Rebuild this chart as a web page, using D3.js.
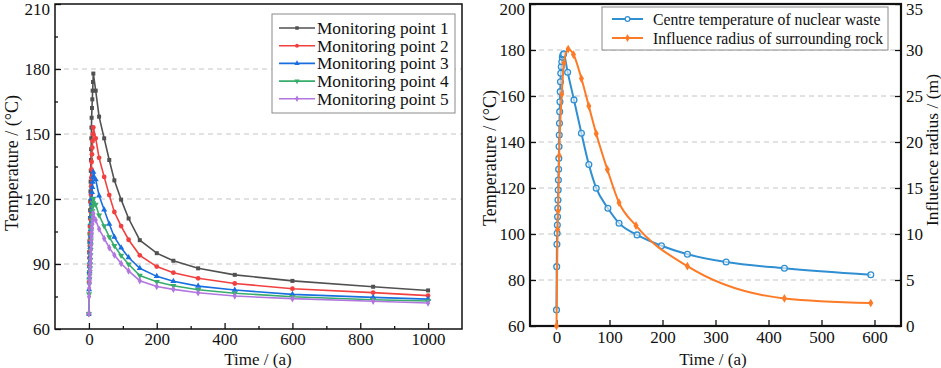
<!DOCTYPE html>
<html>
<head>
<meta charset="utf-8">
<script src="https://cdn.jsdelivr.net/npm/d3@7"></script>
<style>
body { margin: 0; background: #fff; }
text { font-family: "Liberation Serif", "Times New Roman", serif; fill: #111; }
</style>
</head>
<body>
<svg></svg>
<script>
// left panel: five monitoring points
const timeLeft = [0, 0.5, 1, 1.5, 2, 2.5, 3, 3.5, 4, 4.5, 5, 5.5, 6, 6.5, 7, 7.5, 8, 9, 10, 11, 12, 13,
  20, 30, 45, 60, 75, 95, 117, 150, 200, 249, 322, 430, 600, 838, 1000];
const point1 = [67, 86, 95.5, 100.3, 104, 107.5, 111.2, 114.8, 119, 123.5, 128, 133, 138, 143, 148, 153, 157.5, 162, 166, 170, 174, 177.9,
  170, 158, 148, 138, 128.6, 119.7, 111, 101, 95, 91.5, 88, 85, 82.2, 79.5, 77.8];
const point2 = [67, 81.7, 89.1, 92.8, 95.6, 98.4, 101.2, 104.1, 107.3, 110.8, 114.3, 118.2, 122, 125.9, 129.8, 133.7, 137.1, 140.6, 143.7, 146.8, 149.9, 153,
  148, 139, 130.2, 121.8, 114, 107.5, 101.2, 94, 88.8, 86, 83.4, 81, 78.6, 76.8, 75.4];
const point3 = [67, 78.2, 83.8, 86.7, 88.8, 90.9, 93.1, 95.2, 97.7, 100.3, 103, 106, 108.9, 111.9, 114.8, 117.8, 120.4, 123.1, 125.4, 127.8, 130.1, 132.5,
  129, 121.5, 115, 108.5, 102.5, 97.5, 93, 88, 84.3, 82, 79.8, 78, 76, 74.6, 73.8];
const point4 = [67, 76.1, 80.7, 83, 84.7, 86.4, 88.2, 89.9, 91.9, 94.1, 96.3, 98.7, 101, 103.4, 105.8, 108.2, 110.4, 112.5, 114.5, 116.4, 118.3, 120.2,
  117.5, 112.5, 107.5, 102.5, 98.4, 93.9, 89.9, 84.7, 81.8, 80, 78.1, 76.5, 74.9, 73.5, 72.9];
const point5 = [67, 74.9, 78.9, 80.9, 82.4, 83.9, 85.4, 87, 88.7, 90.6, 92.5, 94.5, 96.6, 98.7, 100.8, 102.9, 104.7, 106.6, 108.3, 110, 111.6, 113.3,
  110.3, 106.1, 101.8, 97.5, 94.1, 90.2, 86.8, 82.3, 79.6, 78.3, 76.7, 75.2, 74, 72.8, 72];
const pointNames = ['Monitoring point 1', 'Monitoring point 2', 'Monitoring point 3', 'Monitoring point 4', 'Monitoring point 5'];
const leftYTicks = [60, 90, 120, 150, 180, 210];
const leftXTicks = [0, 200, 400, 600, 800, 1000];

// right panel
const timeCentre = [0, 0.4, 0.8, 1.2, 1.6, 2, 2.4, 2.8, 3.2, 3.6, 4, 4.4, 4.8, 5.2, 5.6, 6, 6.5, 7, 7.5, 8, 9, 10, 11, 12, 13.5,
  21, 33, 47, 61, 75, 97, 118, 152, 198, 247, 320, 430, 593];
const centreTemp = [67, 85.8, 95.5, 100.3, 103.9, 107.5, 111.2, 114.8, 119.1, 123.5, 128.1, 132.9, 138, 143, 148.1, 153.2, 157.5, 161.9, 166.2, 169.9, 172.7, 174.9, 176.8, 177.8, 178.3,
  170.3, 158.3, 143.8, 130.2, 119.9, 111.2, 104.7, 99.6, 94.9, 91.2, 87.8, 85.1, 82.3];
const timeRadius = [0, 2, 3, 5, 10, 14, 22, 32, 47, 61, 75, 96, 118, 150, 247, 430, 593];
const radius = [0, 10.5, 12.5, 18.5, 25.2, 28.6, 30.1, 29.5, 26.9, 23.9, 20.9, 17, 13.4, 10.9, 6.5, 3, 2.5];
const rightNames = ['Centre temperature of nuclear waste', 'Influence radius of surrounding rock'];
const rightYTicks = [60, 80, 100, 120, 140, 160, 180, 200];
const rightY2Ticks = [0, 5, 10, 15, 20, 25, 30, 35];
const rightXTicks = [0, 100, 200, 300, 400, 500, 600];

const svg = d3.select('svg').attr('width', 941).attr('height', 368);

const leftColors = ['#515151', '#F14040', '#1A6FDF', '#37AD6B', '#B177DE'];
const leftSymbols = [d3.symbolSquare, d3.symbolCircle, d3.symbolTriangle, d3.symbolTriangle, d3.symbolDiamond];
const rightColors = ['#2f8fd1', '#fd7a26'];
const fmt = d3.format('d');

// ---------- left chart ----------
const xL = d3.scaleLinear().domain([-100, 1100]).range([55, 462]);
const yL = d3.scaleLinear().domain([60, 210]).range([329, 4]);

const gL = svg.append('g');

// grid
gL.selectAll('.grid').data(leftYTicks.filter(d => d > 60 && d < 210)).enter().append('line')
  .attr('x1', 55).attr('x2', 462)
  .attr('y1', d => yL(d)).attr('y2', d => yL(d))
  .attr('stroke', '#c4c4c4').attr('stroke-dasharray', '5,4').attr('stroke-width', 1);

const styleAxis = (g) => {
  g.select('.domain').remove();
  g.selectAll('line').attr('stroke', '#111').attr('stroke-width', 1.3);
  g.selectAll('text').style('font-size', '17px').style('font-family', '"Liberation Serif", serif').attr('fill', '#111');
};
// top-most labels sit a little lower so they stay inside the picture
const lowerTop = top => g => g.selectAll('.tick text').filter(d => d === top).attr('dy', '0.62em');

gL.append('g').attr('transform', 'translate(0,329)')
  .call(d3.axisBottom(xL).tickValues(leftXTicks).tickFormat(fmt).tickSize(-6).tickPadding(4))
  .call(styleAxis);
gL.append('g').attr('transform', 'translate(0,329)')
  .call(d3.axisBottom(xL).tickValues([100, 300, 500, 700, 900]).tickSize(-3).tickFormat(''))
  .call(styleAxis);
gL.append('g').attr('transform', 'translate(55,0)')
  .call(d3.axisLeft(yL).tickValues(leftYTicks).tickSize(-6).tickPadding(5))
  .call(styleAxis).call(lowerTop(210));
gL.append('g').attr('transform', 'translate(55,0)')
  .call(d3.axisLeft(yL).tickValues([75, 105, 135, 165, 195]).tickSize(-3).tickFormat(''))
  .call(styleAxis);

gL.append('rect').attr('x', 55).attr('y', 4).attr('width', 407).attr('height', 325)
  .attr('fill', 'none').attr('stroke', '#111').attr('stroke-width', 1.5);

const leftSeries = [point1, point2, point3, point4, point5];
const lineL = d3.line().x(d => xL(d[0])).y(d => yL(d[1]));

leftSeries.forEach((vals, i) => {
  const pts = timeLeft.map((t, j) => [t, vals[j]]);
  gL.append('path').datum(pts)
    .attr('d', lineL).attr('fill', 'none')
    .attr('stroke', leftColors[i]).attr('stroke-width', 1.6);
  gL.selectAll('.m' + i).data(pts).enter().append('path')
    .attr('d', d3.symbol().type(leftSymbols[i]).size(i === 1 ? 18 : 16))
    .attr('transform', d => `translate(${xL(d[0])},${yL(d[1])})${i === 3 ? ' rotate(180)' : ''}`)
    .attr('fill', leftColors[i]);
});

// left legend
const legL = gL.append('g');
legL.append('rect').attr('x', 272).attr('y', 14).attr('width', 183).attr('height', 99)
  .attr('fill', '#fff').attr('stroke', '#8a8a8a').attr('stroke-width', 1);
pointNames.forEach((name, i) => {
  const y = 28 + i * 17.7;
  legL.append('line').attr('x1', 279).attr('x2', 315).attr('y1', y).attr('y2', y)
    .attr('stroke', leftColors[i]).attr('stroke-width', 1.6);
  legL.append('path').attr('d', d3.symbol().type(leftSymbols[i]).size(12))
    .attr('transform', `translate(297,${y})${i === 3 ? ' rotate(180)' : ''}`)
    .attr('fill', leftColors[i]);
  legL.append('text').attr('x', 317).attr('y', y + 6).style('font-size', '17.3px').text(name);
});

gL.append('text').attr('transform', 'translate(18,163) rotate(-90)')
  .attr('text-anchor', 'middle').style('font-size', '18px').text('Temperature / (°C)');
gL.append('text').attr('x', 258).attr('y', 365)
  .attr('text-anchor', 'middle').style('font-size', '17px').text('Time / (a)');

// ---------- right chart ----------
const xR = d3.scaleLinear().domain([-50, 650]).range([530, 901]);
const yR = d3.scaleLinear().domain([60, 200]).range([326, 4]);
const yR2 = d3.scaleLinear().domain([0, 35]).range([326, 4]);

const gR = svg.append('g');

gR.selectAll('.grid').data(rightYTicks.filter(d => d > 60 && d < 200)).enter().append('line')
  .attr('x1', 530).attr('x2', 901)
  .attr('y1', d => yR(d)).attr('y2', d => yR(d))
  .attr('stroke', '#c4c4c4').attr('stroke-dasharray', '5,4').attr('stroke-width', 1);

gR.append('g').attr('transform', 'translate(0,326)')
  .call(d3.axisBottom(xR).tickValues(rightXTicks).tickFormat(fmt).tickSize(-6).tickPadding(5))
  .call(styleAxis);
gR.append('g').attr('transform', 'translate(530,0)')
  .call(d3.axisLeft(yR).tickValues(rightYTicks).tickSize(-6).tickPadding(5))
  .call(styleAxis).call(lowerTop(200));
gR.append('g').attr('transform', 'translate(901,0)')
  .call(d3.axisRight(yR2).tickValues(rightY2Ticks).tickSize(-6).tickPadding(5))
  .call(styleAxis).call(lowerTop(35));

gR.append('rect').attr('x', 530).attr('y', 4).attr('width', 371).attr('height', 322)
  .attr('fill', 'none').attr('stroke', '#111').attr('stroke-width', 2.2);

const centrePts = timeCentre.map((t, j) => [t, centreTemp[j]]);
const radiusPts = timeRadius.map((t, j) => [t, radius[j]]);

gR.append('path').datum(centrePts)
  .attr('d', d3.line().x(d => xR(d[0])).y(d => yR(d[1])).curve(d3.curveMonotoneX))
  .attr('fill', 'none').attr('stroke', rightColors[0]).attr('stroke-width', 2);
gR.selectAll('.mc').data(centrePts).enter().append('circle')
  .attr('cx', d => xR(d[0])).attr('cy', d => yR(d[1])).attr('r', 2.9)
  .attr('fill', '#fff').attr('fill-opacity', 0.6).attr('stroke', rightColors[0]).attr('stroke-width', 1.3);

gR.append('path').datum(radiusPts)
  .attr('d', d3.line().x(d => xR(d[0])).y(d => yR2(d[1])).curve(d3.curveMonotoneX))
  .attr('fill', 'none').attr('stroke', rightColors[1]).attr('stroke-width', 2);
gR.selectAll('.mr').data(radiusPts).enter().append('path')
  .attr('d', d3.symbol().type(d3.symbolDiamond).size(22))
  .attr('transform', d => `translate(${xR(d[0])},${yR2(d[1])})`)
  .attr('fill', rightColors[1]);

// right legend
const legR = gR.append('g');
legR.append('rect').attr('x', 602).attr('y', 7).attr('width', 286).attr('height', 43)
  .attr('fill', '#fff').attr('stroke', '#8a8a8a').attr('stroke-width', 1);
rightNames.forEach((name, i) => {
  const y = 19 + i * 19;
  legR.append('line').attr('x1', 612).attr('x2', 643).attr('y1', y).attr('y2', y)
    .attr('stroke', rightColors[i]).attr('stroke-width', 2);
  if (i === 0) {
    legR.append('circle').attr('cx', 627.5).attr('cy', y).attr('r', 2.4)
      .attr('fill', '#fff').attr('stroke', rightColors[0]).attr('stroke-width', 1.2);
  } else {
    legR.append('path').attr('d', d3.symbol().type(d3.symbolDiamond).size(18))
      .attr('transform', `translate(627.5,${y})`).attr('fill', rightColors[1]);
  }
  legR.append('text').attr('x', 653).attr('y', y + 6).style('font-size', '15.7px').text(name);
});

gR.append('text').attr('transform', 'translate(496,158) rotate(-90)')
  .attr('text-anchor', 'middle').style('font-size', '18px').text('Temperature / (°C)');
gR.append('text').attr('transform', 'translate(938,150) rotate(-90)')
  .attr('text-anchor', 'middle').style('font-size', '17.5px').text('Influence radius / (m)');
gR.append('text').attr('x', 713).attr('y', 365)
  .attr('text-anchor', 'middle').style('font-size', '17px').text('Time / (a)');
</script>
</body>
</html>
